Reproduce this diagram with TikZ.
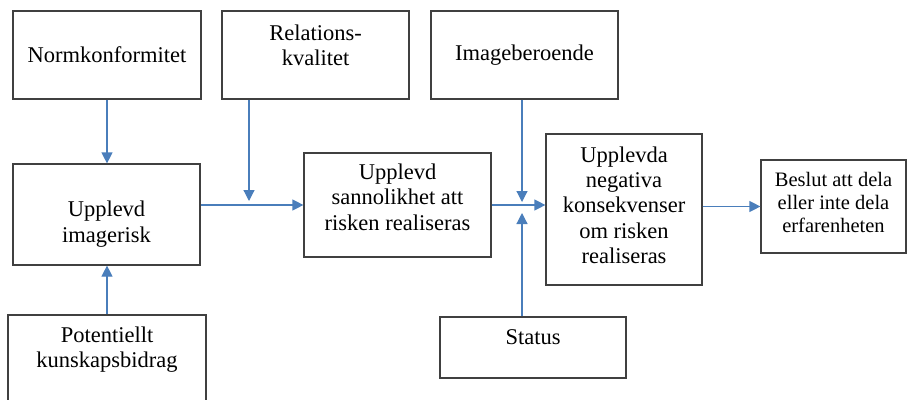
\documentclass[tikz,border=0pt]{standalone}
\usepackage{fontspec}
\setmainfont{Liberation Serif}
\usepackage{tikz}
\usetikzlibrary{arrows.meta, positioning, calc}
\definecolor{cblue}{HTML}{4A7EBB}
\definecolor{cframe}{HTML}{404040}

\begin{document}
\begin{tikzpicture}[x=1pt, y=-1pt,
    box/.style={draw=cframe, line width=1.2pt, inner sep=0pt, align=center,
      font=\fontsize{22.5}{25.3}\selectfont},
    flow/.style={cblue, line width=1.2pt, -{Triangle[length=11pt, width=11pt]}}]
  \useasboundingbox (0,0) rectangle (907,399);
  % top row
  \node[box, minimum width=188pt, minimum height=88pt] (norm) at (107,55) {Normkonformitet};
  \node[box, minimum width=187pt, minimum height=88pt, text depth=20pt] (rel) at (315.5,55) {Relations-\\kvalitet};
  \node[box, minimum width=187pt, minimum height=88pt] (imgb) at (524.5,55) {Imageberoende};
  % middle row
  \node[box, minimum width=187pt, minimum height=101pt, text height=60pt] (risk) at (106.5,214.5) {Upplevd\\imagerisk};
  \node[box, minimum width=187pt, minimum height=104pt, text depth=16pt] (sann) at (397.5,205) {Upplevd\\sannolikhet att\\risken realiseras};
  \node[box, minimum width=156pt, minimum height=151pt, text depth=9pt] (neg) at (624,209.5) {Upplevda\\negativa\\konsekvenser\\om risken\\realiseras};
  \node[box, minimum width=145pt, minimum height=93pt, text depth=9pt,
    font=\fontsize{20.5}{23}\selectfont] (beslut) at (833.5,206.5) {Beslut att dela\\eller inte dela\\erfarenheten};
  % bottom row
  \node[box, minimum width=198pt, minimum height=95pt, text depth=30pt] (pot) at (107,362.5) {Potentiellt\\kunskapsbidrag};
  \node[box, minimum width=186pt, minimum height=61pt, text depth=20pt] (status) at (533,347.5) {Status};
  % free arrow ends
  \coordinate (relend) at (249,201);
  \coordinate (imgend) at (522,202);
  \coordinate (statend) at (522,213);
  % arrows
  \draw[flow] (norm.south) -- (norm.south |- risk.north);
  \draw[flow] (pot.north) -- (pot.north |- risk.south);
  \draw[flow] (rel.south -| relend) -- (relend);
  \draw[flow] (imgb.south -| imgend) -- (imgend);
  \draw[flow] (status.north -| statend) -- (statend);
  \draw[flow] (sann.west -| risk.east) -- (sann.west);
  \draw[flow] (sann.east) -- (sann.east -| neg.west);
  \draw[flow] (beslut.west -| neg.east) -- (beslut.west);
\end{tikzpicture}
\end{document}
